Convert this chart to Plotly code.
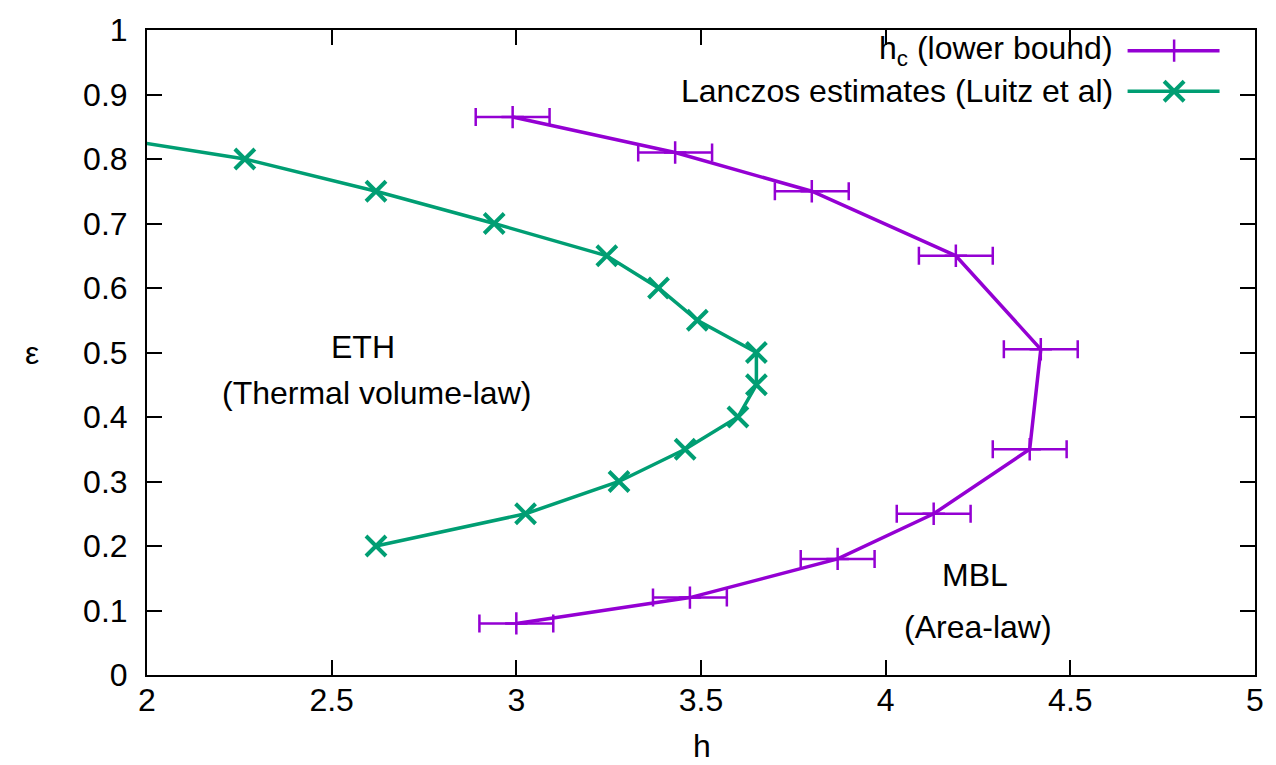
import plotly.graph_objects as go

# Critical field h_c(eps) lower bound, with symmetric error in h
eps_c = [0.08, 0.12, 0.18, 0.25, 0.35, 0.505, 0.65, 0.75, 0.81, 0.865]
h_c = [3.00, 3.47, 3.87, 4.13, 4.39, 4.42, 4.19, 3.80, 3.43, 2.99]
h_c_err = [0.1, 0.1, 0.1, 0.1, 0.1, 0.1, 0.1, 0.1, 0.1, 0.1]

# Lanczos estimates of the mobility edge (Luitz et al)
eps_l = [0.85, 0.80, 0.75, 0.70, 0.65, 0.60, 0.55, 0.50, 0.45, 0.40, 0.35, 0.30, 0.25, 0.20]
h_l = [1.71, 2.265, 2.62, 2.94, 3.245, 3.385, 3.49, 3.65, 3.65, 3.60, 3.457, 3.278, 3.025, 2.62]

x_ticks = [2, 2.5, 3, 3.5, 4, 4.5, 5]
y_ticks = [0, 0.1, 0.2, 0.3, 0.4, 0.5, 0.6, 0.7, 0.8, 0.9, 1]

PURPLE = "#9400d3"
GREEN = "#009e73"
FONT = "Liberation Sans, Arial, sans-serif"
FS = 32

fig = go.Figure()

fig.add_trace(go.Scatter(
    x=h_c, y=eps_c, mode="lines+markers",
    line=dict(color=PURPLE, width=3.5),
    marker=dict(symbol="cross-thin", size=16, line=dict(color=PURPLE, width=2.5)),
    error_x=dict(type="data", array=h_c_err, symmetric=True,
                 color=PURPLE, thickness=2.5, width=9),
    showlegend=False,
))

fig.add_trace(go.Scatter(
    x=h_l, y=eps_l, mode="lines+markers",
    line=dict(color=GREEN, width=3.5),
    marker=dict(symbol="x-thin", size=20, line=dict(color=GREEN, width=4)),
    showlegend=False,
))

# Key samples (line + point) drawn on an overlaid unit axis, text to their left
key_x = [0.885, 0.968]
key_mid = 0.927
key_rows = [0.968, 0.905]
key_styles = [
    (PURPLE, "cross-thin", 16, 2.5),
    (GREEN, "x-thin", 20, 4),
]
key_labels = ["h<sub>c</sub> (lower bound)", "Lanczos estimates (Luitz et al)"]

for row, (col, sym, sz, lw) in zip(key_rows, key_styles):
    fig.add_trace(go.Scatter(
        x=key_x, y=[row, row], mode="lines", xaxis="x2", yaxis="y2",
        line=dict(color=col, width=3.5), showlegend=False, hoverinfo="skip",
        cliponaxis=False,
    ))
    fig.add_trace(go.Scatter(
        x=[key_mid], y=[row], mode="markers", xaxis="x2", yaxis="y2",
        marker=dict(symbol=sym, size=sz, line=dict(color=col, width=lw)),
        showlegend=False, hoverinfo="skip", cliponaxis=False,
    ))

annotations = []
for row, label in zip(key_rows, key_labels):
    annotations.append(dict(
        xref="paper", yref="paper", x=0.874, y=row, text=label,
        showarrow=False, xanchor="right", yanchor="middle",
        font=dict(family=FONT, size=FS, color="black"),
    ))

# Region labels
for txt, hx, ey in [
    ("ETH", 2.586, 0.509),
    ("(Thermal volume-law)", 2.622, 0.437),
    ("MBL", 4.243, 0.155),
    ("(Area-law)", 4.249, 0.074),
]:
    annotations.append(dict(
        x=hx, y=ey, xref="x", yref="y", text=txt, showarrow=False,
        xanchor="center", yanchor="middle",
        font=dict(family=FONT, size=FS, color="black"),
    ))

# Axis titles
annotations.append(dict(xref="paper", yref="paper", x=-0.1035, y=0.5,
                        text="ε", showarrow=False, xanchor="center", yanchor="middle",
                        font=dict(family=FONT, size=FS, color="black")))
annotations.append(dict(xref="paper", yref="paper", x=0.5005, y=-0.11,
                        text="h", showarrow=False, xanchor="center", yanchor="middle",
                        font=dict(family=FONT, size=FS, color="black")))

axis_common = dict(
    showline=True, linecolor="black", linewidth=2, mirror="ticks",
    ticks="inside", ticklen=15, tickwidth=2, tickcolor="black",
    showgrid=False, zeroline=False,
    tickfont=dict(family=FONT, size=FS, color="black"),
)

fig.update_layout(
    width=1276, height=765,
    margin=dict(l=147, r=18, t=26, b=90),
    paper_bgcolor="white", plot_bgcolor="white",
    xaxis=dict(range=[2, 5], tickvals=x_ticks, ticktext=[f"{v:g}" for v in x_ticks],
               ticklabelstandoff=-4, **axis_common),
    yaxis=dict(range=[0, 1], tickvals=y_ticks, ticktext=[f"{v:g}" for v in y_ticks],
               ticklabelstandoff=11, **axis_common),
    xaxis2=dict(overlaying="x", range=[0, 1], visible=False),
    yaxis2=dict(overlaying="y", range=[0, 1], visible=False),
    annotations=annotations,
)

fig.write_html("out.html")
